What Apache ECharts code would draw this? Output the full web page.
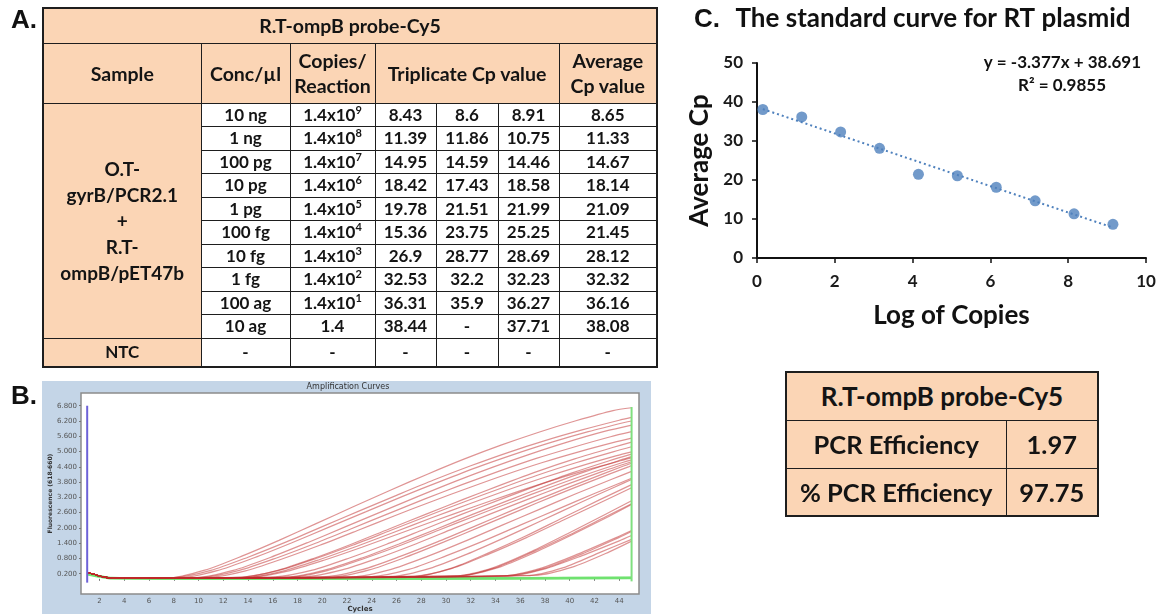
<!DOCTYPE html>
<html><head><meta charset="utf-8">
<script src="https://cdn.jsdelivr.net/npm/echarts@6/dist/echarts.min.js"></script>
<style>
html,body{margin:0;padding:0;background:#fff;width:1162px;height:614px;overflow:hidden;}
#chart{position:absolute;left:0;top:0;width:1162px;height:614px;}
table{position:absolute;border-collapse:collapse;table-layout:fixed;font-family:Lato,'Open Sans',sans-serif;font-weight:700;color:#141414;}
td{border:1.5px solid #1e1e1e;text-align:center;vertical-align:middle;padding:0;overflow:hidden;white-space:nowrap;}
.pe{background:#fbd5b5;}
.wh{background:#fff;}
#tA{left:42px;top:7px;width:614px;border:2px solid #1e1e1e;}
#tA .h{font-size:19.5px;line-height:25px;}
#tA .s{font-size:19px;line-height:26px;}
#tA .d{font-size:17px;line-height:18px;}
#tA sup{font-size:11px;vertical-align:7px;line-height:0;}
#tB{left:785px;top:371px;width:312px;border:2px solid #1e1e1e;font-size:25.5px;}
#tB .t{font-size:26px;}
</style></head>
<body>
<div id="chart"></div>
<table id="tA"></table>
<table id="tB"></table>
<script>
// ---------- Panel A table data ----------
const tableTitle = 'R.T-ompB probe-Cy5';
const headers = ['Sample', 'Conc/µl', 'Copies/<br>Reaction', 'Triplicate Cp value', 'Average<br>Cp value'];
const sampleName = 'O.T-<br>gyrB/PCR2.1<br>+<br>R.T-<br>ompB/pET47b';
const concLabels = ['10 ng','1 ng','100 pg','10 pg','1 pg','100 fg','10 fg','1 fg','100 ag','10 ag'];
const copiesExp = [9,8,7,6,5,4,3,2,1,0];
const cpRep1 = ['8.43','11.39','14.95','18.42','19.78','15.36','26.9','32.53','36.31','38.44'];
const cpRep2 = ['8.6','11.86','14.59','17.43','21.51','23.75','28.77','32.2','35.9','-'];
const cpRep3 = ['8.91','10.75','14.46','18.58','21.99','25.25','28.69','32.23','36.27','37.71'];
const avgCp = [8.65,11.33,14.67,18.14,21.09,21.45,28.12,32.32,36.16,38.08];

// ---------- Panel C data ----------
const logCopies = [9.15,8.15,7.15,6.15,5.15,4.15,3.15,2.15,1.15,0.15];
const trendSlope = -3.377;
const trendIntercept = 38.691;
const rSquared = '0.9855';
const effLabels = ['PCR Efficiency', '% PCR Efficiency'];
const effValues = ['1.97', '97.75'];

// ---------- Panel B amplification curve data (cycle, fluorescence) ----------
const baseStart = [[1,0.24],[1.5,0.19],[2,0.11],[2.5,0.06],[3,0.03],[4,0.03]];
const amp10ng = [
 [[7.5,0.03],[10.5,0.34],[13.5,0.89],[16.5,1.51],[19.5,2.17],[22.5,2.83],[25.5,3.48],[28.5,4.11],[31.5,4.71],[34.5,5.26],[37.5,5.76],[40.5,6.21],[43.5,6.61],[45,6.72]],
 [[8,0.05],[11,0.33],[14,0.85],[17,1.43],[20,2.05],[23,2.67],[26,3.28],[29,3.88],[32,4.44],[35,4.96],[38,5.43],[41,5.85],[44,6.23],[45,6.34]],
 [[8.5,0.04],[11.5,0.32],[14.5,0.83],[17.5,1.41],[20.5,2.02],[23.5,2.63],[26.5,3.24],[29.5,3.82],[32.5,4.38],[35.5,4.89],[38.5,5.36],[41.5,5.78],[44.5,6.15],[45,6.2]]
];
const amp1ng = [
 [[9.8,0.05],[12.8,0.33],[15.8,0.84],[18.8,1.42],[21.8,2.03],[24.8,2.64],[27.8,3.25],[30.8,3.84],[33.8,4.39],[36.8,4.9],[39.8,5.37],[42.8,5.79],[45,6.04]],
 [[10.3,0.06],[13.3,0.33],[16.3,0.82],[19.3,1.37],[22.3,1.96],[25.3,2.55],[28.3,3.14],[31.3,3.7],[34.3,4.23],[37.3,4.73],[40.3,5.17],[43.3,5.58],[45,5.78]],
 [[10.8,0.05],[13.8,0.31],[16.8,0.79],[19.8,1.32],[22.8,1.89],[25.8,2.47],[28.8,3.03],[31.8,3.57],[34.8,4.09],[37.8,4.57],[40.8,5.0],[43.8,5.39],[45,5.53]]
];
const amp100pg = [
 [[13.4,0.06],[16.4,0.33],[19.4,0.82],[22.4,1.37],[25.4,1.96],[28.4,2.54],[31.4,3.12],[34.4,3.68],[37.4,4.22],[40.4,4.71],[43.4,5.15],[45,5.37]],
 [[13.5,0.07],[16.5,0.33],[19.5,0.8],[22.5,1.33],[25.5,1.9],[28.5,2.47],[31.5,3.03],[34.5,3.57],[37.5,4.09],[40.5,4.56],[43.5,4.99],[45,5.19]],
 [[13.8,0.05],[16.8,0.3],[19.8,0.76],[22.8,1.28],[25.8,1.83],[28.8,2.39],[31.8,2.93],[34.8,3.46],[37.8,3.96],[40.8,4.42],[43.8,4.84],[45,4.99]]
];
const amp10pg = [
 [[16.2,0.08],[19.2,0.34],[22.2,0.82],[25.2,1.36],[28.2,1.94],[31.2,2.52],[34.2,3.08],[37.2,3.63],[40.2,4.16],[43.2,4.64],[45,4.9]],
 [[17.2,0.07],[20.2,0.34],[23.2,0.82],[26.2,1.37],[29.2,1.95],[32.2,2.54],[35.2,3.11],[38.2,3.67],[41.2,4.2],[44.2,4.68],[45,4.8]],
 [[17.4,0.06],[20.4,0.32],[23.4,0.8],[26.4,1.33],[29.4,1.91],[32.4,2.48],[35.4,3.04],[38.4,3.59],[41.4,4.11],[44.4,4.59],[45,4.67]]
];
const amp1pg = [
 [[18.6,0.08],[21.6,0.35],[24.6,0.83],[27.6,1.38],[30.6,1.97],[33.6,2.55],[36.6,3.12],[39.6,3.68],[42.6,4.21],[45,4.6]],
 [[20.3,0.09],[23.3,0.37],[26.3,0.88],[29.3,1.45],[32.3,2.06],[35.3,2.68],[38.3,3.28],[41.3,3.86],[44.3,4.42],[45,4.54]],
 [[20.8,0.07],[23.8,0.35],[26.8,0.86],[29.8,1.44],[32.8,2.05],[35.8,2.66],[38.8,3.27],[41.8,3.85],[44.8,4.41],[45,4.45]]
];
const amp100fg = [
 [[14.2,0.06],[17.2,0.3],[20.2,0.74],[23.2,1.24],[26.2,1.77],[29.2,2.3],[32.2,2.82],[35.2,3.33],[38.2,3.81],[41.2,4.25],[44.2,4.65],[45,4.75]],
 [[22.5,0.08],[25.5,0.36],[28.5,0.88],[31.5,1.47],[34.5,2.1],[37.5,2.72],[40.5,3.34],[43.5,3.93],[45,4.22]],
 [[24,0.09],[27,0.37],[30,0.9],[33,1.48],[36,2.11],[39,2.73],[42,3.35],[45,3.95]]
];
const amp10fg = [
 [[25.7,0.1],[28.7,0.41],[31.7,0.97],[34.7,1.61],[37.7,2.28],[40.7,2.96],[43.7,3.62],[45,3.9]],
 [[27.4,0.09],[30.4,0.41],[33.4,1.01],[36.4,1.67],[39.4,2.39],[42.4,3.1],[45,3.7]],
 [[27.5,0.11],[30.5,0.41],[33.5,0.98],[36.5,1.62],[39.5,2.31],[42.5,3.0],[45,3.58]]
];
const amp1fg = [
 [[30.9,0.12],[33.9,0.45],[36.9,1.07],[39.9,1.79],[42.9,2.54],[45,3.07]],
 [[30.9,0.1],[33.9,0.42],[36.9,1.03],[39.9,1.71],[42.9,2.44],[45,2.95]],
 [[31.2,0.13],[34.2,0.44],[37.2,1.04],[40.2,1.73],[43.2,2.46],[45,2.92]]
];
const amp100ag = [
 [[34.7,0.12],[37.7,0.42],[40.7,0.98],[43.7,1.61],[45,1.9]],
 [[35,0.13],[38,0.42],[41,0.98],[44,1.63],[45,1.86]],
 [[35,0.11],[38,0.39],[41,0.91],[44,1.49],[45,1.7]]
];
const amp10ag = [
 [[37.2,0.14],[40.2,0.46],[43.2,1.06],[45,1.48]],
 [[36.5,0.12],[39.5,0.44],[42.5,1.05],[45,1.55]]
];
const ntcCurves = [
 [[1,0.2],[2,0.1],[3,0.03],[10,0.0],[20,0.01],[30,0.02],[40,0.03],[45,0.03]],
 [[1,0.18],[2,0.09],[3,0.02],[12,0.02],[24,0.0],[34,0.01],[45,0.04]]
];
const startMarker = [[1,-0.15],[1,6.8]];
const endMarker = [[45,-0.1],[45,6.75]];
const cycleTicks = [2,4,6,8,10,12,14,16,18,20,22,24,26,28,30,32,34,36,38,40,42,44];
const fluorTicks = [0.2,0.8,1.4,2.0,2.6,3.2,3.8,4.4,5.0,5.6,6.2,6.8];

// ---------- build tables ----------
(function(){
  const colW = [158,89,85,61,62,61,98];
  let h = '<colgroup>' + colW.map(w=>'<col style="width:'+w+'px">').join('') + '</colgroup>';
  h += '<tr style="height:35px"><td class="pe h" colspan="7">'+tableTitle+'</td></tr>';
  h += '<tr style="height:60px"><td class="pe h">'+headers[0]+'</td><td class="pe h">'+headers[1]+'</td><td class="pe h">'+headers[2]+'</td><td class="pe h" colspan="3">'+headers[3]+'</td><td class="pe h">'+headers[4]+'</td></tr>';
  for (let i=0;i<concLabels.length;i++){
    const cop = copiesExp[i]>0 ? '1.4x10<sup>'+copiesExp[i]+'</sup>' : '1.4';
    h += '<tr style="height:23.5px">';
    if (i===0) h += '<td class="pe s" rowspan="10">'+sampleName+'</td>';
    h += '<td class="wh d">'+concLabels[i]+'</td><td class="wh d">'+cop+'</td><td class="wh d">'+cpRep1[i]+'</td><td class="wh d">'+cpRep2[i]+'</td><td class="wh d">'+cpRep3[i]+'</td><td class="wh d">'+avgCp[i].toFixed(2)+'</td></tr>';
  }
  h += '<tr style="height:29px"><td class="pe d">NTC</td>' + '<td class="wh d">-</td>'.repeat(6) + '</tr>';
  document.getElementById('tA').innerHTML = h;

  let b = '<colgroup><col style="width:220px"><col style="width:92px"></colgroup>';
  b += '<tr style="height:48px"><td class="pe t" colspan="2">'+tableTitle+'</td></tr>';
  for (let i=0;i<effLabels.length;i++) b += '<tr style="height:48px"><td class="pe">'+effLabels[i]+'</td><td class="pe">'+effValues[i]+'</td></tr>';
  document.getElementById('tB').innerHTML = b;
})();

// ---------- chart ----------
const chart = echarts.init(document.getElementById('chart'), null, {renderer:'canvas'});
const ampGroups = [amp10ng, amp1ng, amp100pg, amp10pg, amp1pg, amp100fg, amp10fg, amp1fg, amp100ag, amp10ag];
const series = [];
ntcCurves.forEach(c => series.push({type:'line', xAxisIndex:0, yAxisIndex:0, data:c, showSymbol:false, smooth:0.3, silent:true,
  lineStyle:{color:'rgba(110,225,110,0.9)', width:2.5}}));
ampGroups.forEach(g => g.forEach(c => series.push({type:'line', xAxisIndex:0, yAxisIndex:0, data: baseStart.concat(c), showSymbol:false, smooth:0.25, silent:true,
  lineStyle:{color:'rgba(192,42,42,0.5)', width:1.2}})));
series.push({type:'line', xAxisIndex:0, yAxisIndex:0, data:startMarker, showSymbol:false, silent:true, lineStyle:{color:'#6d62d8', width:2}});
series.push({type:'line', xAxisIndex:0, yAxisIndex:0, data:endMarker, showSymbol:false, silent:true, lineStyle:{color:'#7fe07f', width:2}});

// Panel C
const xFirst = Math.min(...logCopies), xLast = Math.max(...logCopies);
series.push({type:'line', xAxisIndex:1, yAxisIndex:1, data:[[xFirst, trendSlope*xFirst+trendIntercept],[xLast, trendSlope*xLast+trendIntercept]],
  showSymbol:false, silent:true, lineStyle:{color:'#4f81bd', width:2, type:[2,3]}});
series.push({type:'scatter', xAxisIndex:1, yAxisIndex:1, data: logCopies.map((x,i)=>[x, avgCp[i]]), symbolSize:11, itemStyle:{color:'#4f81bd'}, silent:true});

const smallLbl = {fontSize:7, color:'#555', fontFamily:'DejaVu Sans'};
const boldLbl = {fontSize:17, fontWeight:'bold', color:'#1a1a1a', fontFamily:'Lato'};
chart.setOption({
  animation:false,
  graphic:[
    {type:'rect', z:-10, shape:{x:42, y:381, width:609, height:233}, style:{fill:'#c4d5e7'}},
    {type:'text', style:{x:11, y:21, text:'A.', font:'bold 26px "Liberation Sans"', fill:'#111', verticalAlign:'middle'}},
    {type:'text', style:{x:11, y:397, text:'B.', font:'bold 26px "Liberation Sans"', fill:'#111', verticalAlign:'middle'}},
    {type:'text', style:{x:694, y:20, text:'C.', font:'bold 26px "Liberation Sans"', fill:'#111', verticalAlign:'middle'}},
    {type:'text', style:{x:348, y:387, text:'Amplification Curves', font:'8px "DejaVu Sans"', fill:'#333', align:'center', verticalAlign:'middle'}},
    {type:'text', style:{x:933, y:19, text:'The standard curve for RT plasmid', font:'bold 26px Lato', fill:'#111', align:'center', verticalAlign:'middle'}},
    {type:'text', style:{x:1141, y:63, text:'y = -3.377x + 38.691', font:'bold 17px Lato', fill:'#111', align:'right', verticalAlign:'middle'}},
    {type:'text', style:{x:1062, y:86, text:'R² = '+rSquared, font:'bold 17px Lato', fill:'#111', align:'center', verticalAlign:'middle'}}
  ],
  grid:[
    {left:81, top:393, width:558, height:206, show:true, backgroundColor:'#fff', borderColor:'#8c8c8c', borderWidth:1.5},
    {left:757, top:63, width:389, height:195}
  ],
  xAxis:[
    {gridIndex:0, type:'value', min:0.5, max:45.6, name:'Cycles', nameLocation:'middle', nameGap:8,
     nameTextStyle:{fontSize:7, fontWeight:'bold', color:'#333', fontFamily:'DejaVu Sans'},
     axisLine:{show:false}, splitLine:{show:false},
     axisTick:{customValues:cycleTicks, length:2, lineStyle:{color:'#777'}},
     axisLabel:{customValues:cycleTicks, margin:4, ...smallLbl}},
    {gridIndex:1, type:'value', min:0, max:10, interval:2, name:'Log of Copies', nameLocation:'middle', nameGap:45,
     nameTextStyle:{fontSize:26, fontWeight:'bold', color:'#111', fontFamily:'Lato'},
     axisLine:{lineStyle:{color:'#111', width:2}}, splitLine:{show:false},
     axisTick:{length:5, lineStyle:{color:'#111', width:1.5}},
     axisLabel:{margin:15, ...boldLbl}}
  ],
  yAxis:[
    {gridIndex:0, type:'value', min:-0.6, max:7.3, name:'Fluorescence (618-660)', nameLocation:'middle', nameGap:24,
     nameTextStyle:{fontSize:6, fontWeight:'bold', color:'#333', fontFamily:'DejaVu Sans'},
     axisLine:{show:false}, splitLine:{show:false},
     axisTick:{customValues:fluorTicks, length:2, lineStyle:{color:'#777'}},
     axisLabel:{customValues:fluorTicks, margin:4, formatter:v=>v.toFixed(3), ...smallLbl}},
    {gridIndex:1, type:'value', min:0, max:50, interval:10, name:'Average Cp', nameLocation:'middle', nameGap:44,
     nameTextStyle:{fontSize:26, fontWeight:'bold', color:'#111', fontFamily:'Lato'},
     axisLine:{show:true, lineStyle:{color:'#111', width:2}}, splitLine:{show:false},
     axisTick:{show:true, length:5, lineStyle:{color:'#111', width:1.5}},
     axisLabel:{margin:14, ...boldLbl}}
  ],
  series: series
});
</script>
</body></html>
